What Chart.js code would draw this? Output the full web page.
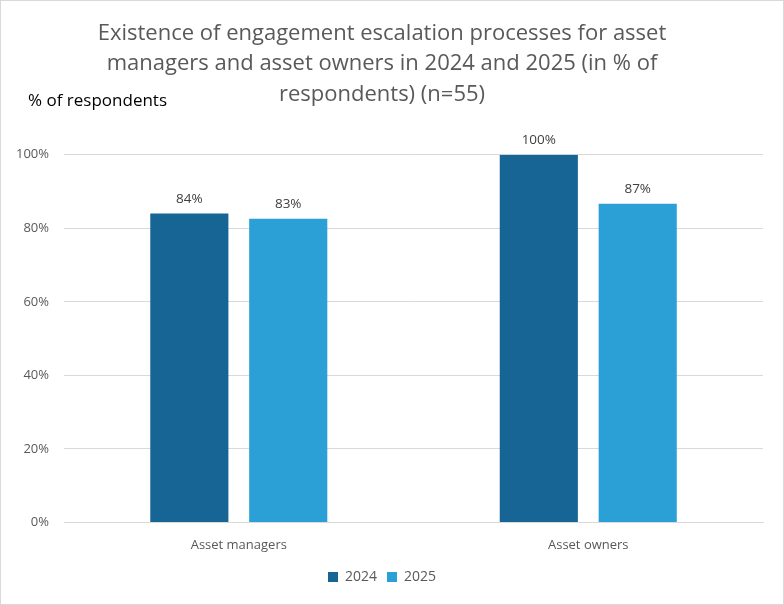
<!DOCTYPE html>
<html><head><meta charset="utf-8">
<script src="https://cdn.jsdelivr.net/npm/chart.js@4/dist/chart.umd.min.js"></script>
<style>
html,body{margin:0;padding:0;background:#fff;}
#wrap{position:relative;width:782px;height:603px;border:1px solid #d9d9d9;}
</style></head>
<body><div id="wrap"><canvas id="c" width="782" height="603"></canvas></div>
<script>
const categories = ["Asset managers", "Asset owners"];
const seriesNames = ["2024", "2025"];
const values2024 = [84, 100];
const values2025 = [82.6, 86.7];
const yTicks = [0, 20, 40, 60, 80, 100];
const titleLines = ["Existence of engagement escalation processes for asset", "managers and asset owners in 2024 and 2025 (in % of", "respondents) (n=55)"];
const yAxisLabel = "% of respondents";

const FONT = "'Open Sans', 'Liberation Sans', sans-serif";

const labelPlugin = {
  id: 'labels',
  afterDatasetsDraw(chart) {
    const ctx = chart.ctx;
    ctx.save();
    ctx.font = "13.5px " + FONT;
    ctx.fillStyle = "#404040";
    ctx.textAlign = "center";
    ctx.textBaseline = "bottom";
    chart.data.datasets.forEach((ds, i) => {
      chart.getDatasetMeta(i).data.forEach((bar, j) => {
        ctx.fillText(Math.round(ds.data[j]) + "%", bar.x, bar.y - 8);
      });
    });
    ctx.font = "17px " + FONT;
    ctx.fillStyle = "#000";
    ctx.textAlign = "left";
    ctx.textBaseline = "middle";
    ctx.fillText(yAxisLabel, 27, 100);
    ctx.restore();
  }
};

new Chart(document.getElementById('c'), {
  type: 'bar',
  data: {
    labels: categories,
    datasets: [
      {label: seriesNames[0], data: values2024, backgroundColor: '#176594'},
      {label: seriesNames[1], data: values2025, backgroundColor: '#2ba0d6'}
    ]
  },
  options: {
    responsive: false,
    animation: false,
    layout: {padding: {left: 0, right: 20, top: 10, bottom: 10}},
    categoryPercentage: 0.566,
    barPercentage: 0.79,
    plugins: {
      title: {
        display: true, text: titleLines, color: '#595959',
        font: {family: FONT, size: 22, weight: 'normal', lineHeight: 1.39},
        padding: {top: 7, bottom: 45}
      },
      legend: {
        position: 'bottom',
        labels: {boxWidth: 10, boxHeight: 10, color: '#595959', font: {family: FONT, size: 14}, padding: 10}
      },
      tooltip: {enabled: false}
    },
    scales: {
      x: {
        grid: {display: false},
        border: {color: '#d9d9d9'},
        ticks: {color: '#595959', font: {family: FONT, size: 13}, padding: 7}
      },
      y: {
        min: 0, max: 100,
        afterBuildTicks(axis) { axis.ticks = yTicks.map(v => ({value: v})); },
        grid: {color: '#d9d9d9', drawTicks: false},
        border: {display: false},
        ticks: {color: '#595959', font: {family: FONT, size: 13}, padding: 15, callback: v => v + '%'}
      }
    }
  },
  plugins: [labelPlugin]
});
</script></body></html>
